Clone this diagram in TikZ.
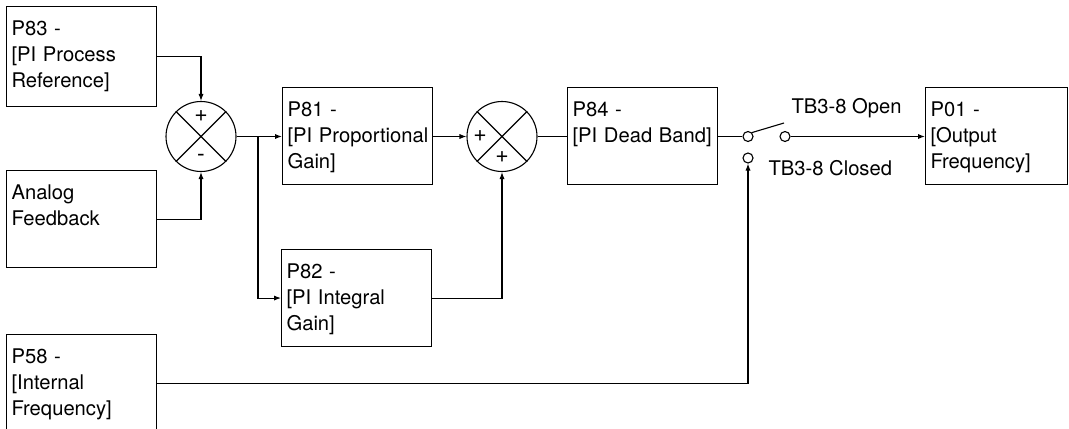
\documentclass[tikz,border=0pt]{standalone}
\usepackage{fontspec}
\setmainfont{TeX Gyre Heros}
\usepackage{tikz}
\usetikzlibrary{positioning,arrows.meta,calc}
\hyphenpenalty=10000

\begin{document}
\begin{tikzpicture}[
  x=0.5pt, y=-0.5pt,
  font=\fontsize{10.1}{13}\selectfont,
  line width=0.55pt,
  blk/.style={draw, anchor=north west, align=left, text width=70pt, inner xsep=2.5pt, inner ysep=0pt, text height=14.5pt, text depth=34pt},
  sumj/.style={draw, circle, minimum size=35pt, inner sep=0pt},
  sgn/.style={inner sep=0pt, font=\fontsize{11.5}{11.5}\selectfont},
  contact/.style={draw, circle, minimum size=5pt, inner sep=0pt},
  swlab/.style={anchor=west, inner sep=0pt},
  ar/.style={-{Latex[length=3.5pt,width=2.6pt]}},
]
\useasboundingbox (0,0) rectangle (1069,428);
\def\ya{87} \def\yc{136.5}
% ---- input blocks ----
\node[blk, text depth=35.5pt] (p83) at (6,6) {P83 -\\{}[PI Process\\Reference]};
\node[blk] (af) at (6,170) {Analog\\Feedback};
\node[blk] (p58) at (6,334) {P58 -\\{}[Internal\\Frequency]};
% ---- summing junctions ----
\node[sumj] (j1) at (201,\yc) {};
\draw (j1.north west) -- (j1.south east) (j1.north east) -- (j1.south west);
\node[sgn] (j1p) at ([yshift=10pt]j1.center) {+};
\node[sgn] (j1m) at ([yshift=-10.5pt]j1.center) {-};
\node[sumj] (j2) at (502,\yc) {};
\draw (j2.north west) -- (j2.south east) (j2.north east) -- (j2.south west);
\node[sgn] (j2a) at ([xshift=-11pt]j2.center) {+};
\node[sgn] (j2b) at ([yshift=-10.5pt]j2.center) {+};
% ---- PI blocks ----
\node[blk] (p81) at (282,\ya) {P81 -\\{}[PI~Proportional\\Gain]};
\node[blk] (p82) at (281,249) {P82 -\\{}[PI Integral\\Gain]};
\node[blk] (p84) at (567,\ya) {P84 -\\{}[PI~Dead~Band]};
\node[blk, text width=66pt] (p01) at (925,\ya) {P01 -\\{}[Output\\Frequency]};
% ---- switch ----
\node[contact] (sw1) at (748,\yc) {};
\node[contact] (sw2) at (785,\yc) {};
\node[contact] (sw3) at (748,158) {};
\coordinate (lever) at (784,123);
\draw (sw1.north east) -- (lever);
\node[swlab] (lopen) at (791,108) {TB3-8 Open};
\node[swlab] (lclosed) at (768,168) {TB3-8 Closed};
% connectors
\draw[ar] (p83.east) -| (j1.north);
\draw[ar] (af.east) -| (j1.south);
\draw[ar] (j1.east) -- (j1.east -| p81.west);
\coordinate (br) at (258,\yc);
\draw[ar] (br) |- (p82.west);
\draw[ar] (p81.east |- j2.west) -- (j2.west);
\draw[ar] (p82.east) -| (j2.south);
\draw (j2.east) -- (j2.east -| p84.west);
\draw (p84.east |- sw1.west) -- (sw1.west);
\draw[ar] (sw2.east) -- (sw2.east -| p01.west);
\draw[ar] (p58.east) -| (sw3.south);
\end{tikzpicture}
\end{document}
